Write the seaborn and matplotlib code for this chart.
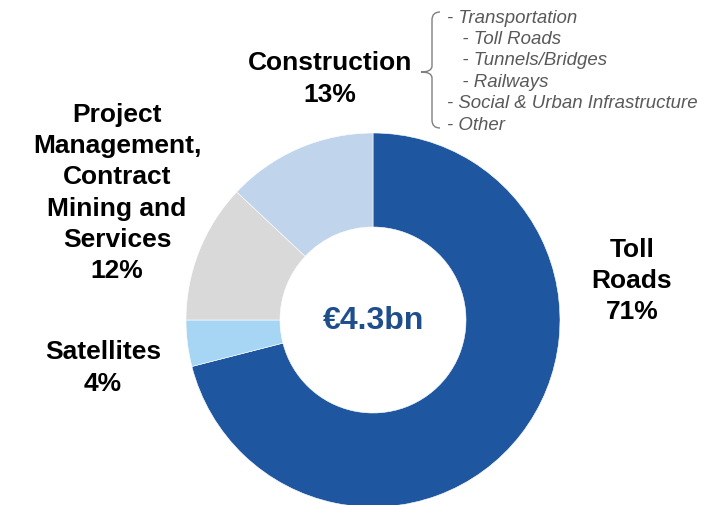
import matplotlib.pyplot as plt
import seaborn as sns
from matplotlib.path import Path
from matplotlib.patches import PathPatch

sns.set_theme(style="white")
plt.rcParams['font.family'] = ['Liberation Sans', 'DejaVu Sans']

# Datos del gráfico
segmentos = ["Toll Roads", "Satellites", "Project Management, Contract Mining and Services", "Construction"]
porcentajes = [71, 4, 12, 13]
colores = ["#1F56A0", "#A6D6F3", "#D9D9D9", "#C0D4EC"]
total = "€4.3bn"
detalle_construccion = ["- Transportation", "   - Toll Roads", "   - Tunnels/Bridges", "   - Railways",
                        "- Social & Urban Infrastructure", "- Other"]

W, H = 710, 506
fig = plt.figure(figsize=(W / 100, H / 100), dpi=100)
ax = fig.add_axes([0, 0, 1, 1])

def py(y):
    # coordenada y en píxeles desde arriba
    return H - y

ax.pie(porcentajes, colors=colores, startangle=90, counterclock=False,
       center=(373, py(321)), radius=187,
       wedgeprops=dict(width=94, edgecolor="white", linewidth=0.4))
ax.set_xlim(0, W)
ax.set_ylim(0, H)
ax.set_aspect("equal")
ax.axis("off")

ax.text(373, py(321), total, ha="center", va="center", fontsize=23,
        fontweight="bold", color="#1F4E8C")

etiqueta = dict(ha="center", va="center", fontsize=19, fontweight="bold",
                color="black", linespacing=1.37)
ax.text(632, py(281), f"Toll\nRoads\n{porcentajes[0]}%", **etiqueta)
ax.text(103, py(368), f"Satellites\n{porcentajes[1]}%", **etiqueta)
ax.text(117, py(193), f"Project\nManagement,\nContract\nMining and\nServices\n{porcentajes[2]}%", **etiqueta)
ax.text(330, py(79), f"Construction\n{porcentajes[3]}%", ha="center", va="center", fontsize=19,
        fontweight="bold", color="black", linespacing=1.45)

# Detalle de Construcción
for i, linea in enumerate(detalle_construccion):
    ax.text(447, py(18 + i * 21.4), linea, ha="left", va="center", fontsize=13.4,
            style="italic", color="#595959")

# Llave
x0, x1, xt = 440, 432, 421
yt, ym, yb = 13, 73, 129
verts = [(x0, py(yt)), (x1, py(yt)), (x1, py(yt + 8)),
         (x1, py(ym - 6)),
         (x1, py(ym)), (xt, py(ym)),
         (x1, py(ym)), (x1, py(ym + 6)),
         (x1, py(yb - 8)),
         (x1, py(yb)), (x0, py(yb))]
codes = [Path.MOVETO, Path.CURVE3, Path.CURVE3,
         Path.LINETO,
         Path.CURVE3, Path.CURVE3,
         Path.CURVE3, Path.CURVE3,
         Path.LINETO,
         Path.CURVE3, Path.CURVE3]
ax.add_patch(PathPatch(Path(verts, codes), facecolor="none", edgecolor="#7F7F7F", lw=1))

fig.savefig("out.png", dpi=100)
